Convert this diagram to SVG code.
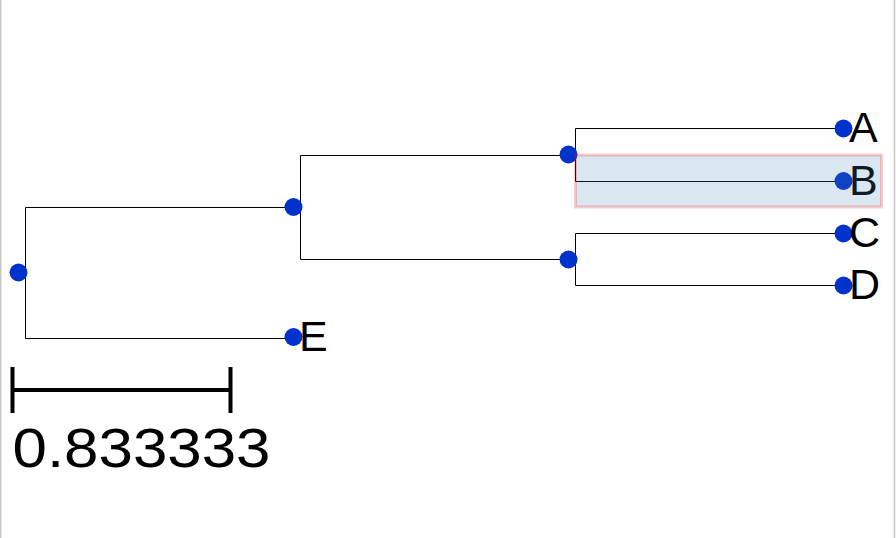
<svg xmlns="http://www.w3.org/2000/svg" width="896" height="538" viewBox="0 0 896 538">
<style>
.edge{fill:none;stroke:#000;stroke-width:1}
.node{fill:#0033cc}
.lbl{font-family:"Liberation Sans",Arial,sans-serif;font-size:43px;fill:#000}
.scale{fill:none;stroke:#000;stroke-width:4}
.scaletxt{font-family:"Liberation Sans",Arial,sans-serif;font-size:56px;fill:#000}
</style>
<rect x="0" y="0" width="896" height="538" fill="#fff"/>
<line x1="0.75" y1="0" x2="0.75" y2="538" stroke="#c8c8c8" stroke-width="1.5"/>
<line x1="894.5" y1="0" x2="894.5" y2="538" stroke="#c8c8c8" stroke-width="1.5"/>
<g id="connectors">
<path class="edge" d="M25.5,207.5 V338.5 M25.5,207.5 H293 M25.5,338.5 H293"/>
<path class="edge" d="M300.5,155.5 V259.5 M300.5,155.5 H568 M300.5,259.5 H568"/>
<path class="edge" d="M575.5,128.5 V181.5 M575.5,128.5 H843 M575.5,181.5 H843"/>
<path class="edge" d="M575.5,233.5 V285.5 M575.5,233.5 H843 M575.5,285.5 H843"/>
</g>
<g id="root"><circle class="node" cx="18.5" cy="272.5" r="9"/></g>
<g id="n1"><circle class="node" cx="293.5" cy="207" r="9"/></g>
<g id="n2"><circle class="node" cx="568.5" cy="154.5" r="9"/></g>
<g id="n3"><circle class="node" cx="568.5" cy="259.5" r="9"/></g>
<g id="A"><circle class="node" cx="843.5" cy="128.5" r="9"/><text class="lbl" x="849" y="142">A</text></g>
<g id="B"><circle class="node" cx="843.5" cy="181" r="9"/><text class="lbl" x="849" y="195">B</text></g>
<g id="C"><circle class="node" cx="843.5" cy="233.5" r="9"/><text class="lbl" x="849" y="247">C</text></g>
<g id="D"><circle class="node" cx="843.5" cy="285.5" r="9"/><text class="lbl" x="849" y="299">D</text></g>
<g id="E"><circle class="node" cx="293.5" cy="337" r="9"/><text class="lbl" x="299" y="350.5">E</text></g>
<g id="highlight"><rect x="575.5" y="155" width="306" height="52" fill="rgb(70,130,180)" fill-opacity="0.2" stroke="#ff0000" stroke-opacity="0.2" stroke-width="3"/></g>
<g id="scalebar">
<path class="scale" d="M12.5,367 V413 M230.5,367 V413 M12.5,390 H230.5"/>
<text class="scaletxt" x="12.5" y="466.5" textLength="258" lengthAdjust="spacingAndGlyphs">0.833333</text>
</g>
</svg>
